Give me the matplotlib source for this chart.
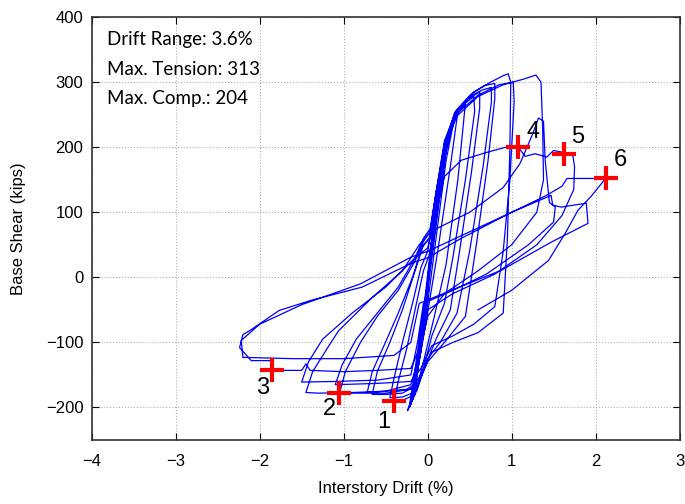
import numpy as np
import matplotlib.pyplot as plt

# hysteresis cycles (drift %, base shear kips)
c1_x = [0.00, 0.06, 0.12, 0.15, 0.13, 0.05, -0.03, -0.08, -0.10, -0.08, -0.02, 0.02]
c1_y = [0, 60, 120, 150, 140, 60, -30, -90, -120, -115, -50, 10]
c2_x = [0.02, 0.10, 0.18, 0.25, 0.23, 0.14, 0.03, -0.07, -0.14, -0.17, -0.15, -0.06, 0.02]
c2_y = [10, 95, 175, 215, 205, 120, 10, -95, -160, -180, -175, -90, 10]
c2b_x = [0.02, 0.09, 0.17, 0.28, 0.30, 0.22, 0.10, -0.02, -0.12, -0.19, -0.21, -0.17, -0.08, 0.02]
c2b_y = [10, 85, 165, 225, 232, 180, 60, -60, -145, -190, -198, -185, -100, 10]
c3_x = [0.02, 0.11, 0.21, 0.30, 0.36, 0.35, 0.27, 0.12, -0.02, -0.13, -0.20, -0.24, -0.22, -0.16, -0.06, 0.03]
c3_y = [10, 105, 195, 240, 255, 245, 170, 40, -70, -150, -190, -205, -200, -150, -60, 20]
c4_x = [0.03, 0.12, 0.22, 0.32, 0.45, 0.44, 0.36, 0.22, 0.08, -0.05, -0.15, -0.22, -0.20, -0.14, -0.04, 0.04]
c4_y = [20, 110, 200, 245, 268, 255, 150, 20, -60, -130, -180, -200, -195, -140, -50, 25]
c5_x = [0.04, 0.13, 0.23, 0.33, 0.45, 0.55, 0.56, 0.45, 0.30, 0.20, 0.05, -0.05, -0.15, -0.28, -0.40,
        -0.35, -0.25, -0.15, -0.05, 0.02]
c5_y = [25, 115, 205, 248, 268, 278, 255, 150, 30, -40, -90, -140, -180, -188, -190,
        -160, -110, -50, 10, 35]
c6_x = [0.02, 0.12, 0.22, 0.34, 0.48, 0.62, 0.62, 0.52, 0.38, 0.27, 0.10, -0.04, -0.13, -0.30, -0.45,
        -0.40, -0.30, -0.18, -0.08, 0.00]
c6_y = [35, 115, 205, 250, 274, 285, 260, 160, 40, -50, -95, -140, -175, -184, -185,
        -155, -100, -40, 15, 40]
c7_x = [0.00, 0.11, 0.20, 0.32, 0.50, 0.65, 0.76, 0.76, 0.66, 0.50, 0.35, 0.15, 0.00, -0.12, -0.30,
        -0.50, -0.66, -0.60, -0.45, -0.30, -0.15, -0.05, 0.02]
c7_y = [40, 120, 205, 252, 278, 288, 292, 270, 170, 40, -55, -100, -125, -165, -178,
        -180, -180, -145, -100, -50, 10, 50, 60]
c8_x = [0.02, 0.10, 0.20, 0.33, 0.52, 0.68, 0.80, 0.80, 0.72, 0.58, 0.45, 0.20, 0.00, -0.10, -0.25,
        -0.50, -0.72, -0.66, -0.52, -0.35, -0.18, -0.07, 0.02]
c8_y = [60, 125, 205, 255, 282, 295, 298, 275, 180, 50, -60, -100, -130, -160, -172,
        -175, -177, -145, -105, -55, 0, 45, 60]
c9_x = [0.02, 0.10, 0.20, 0.35, 0.55, 0.75, 0.90, 0.96, 0.99, 0.98, 0.95, 0.90, 0.60, 0.30, 0.05,
        -0.08, -0.20, -0.50, -0.80, -1.05, -0.98, -0.80, -0.60, -0.35, -0.15, -0.05, 0.03]
c9_y = [60, 130, 210, 258, 285, 300, 310, 313, 300, 200, 60, -55, -85, -100, -115,
        -150, -172, -178, -178, -178, -145, -100, -60, -20, 25, 55, 70]
c10_x = [0.03, 0.10, 0.20, 0.35, 0.60, 0.85, 1.02, 1.03, 0.98, 0.90, 0.80, 0.55, 0.30, 0.05, -0.08,
         -0.20, -0.60, -1.10, -1.02, -0.85, -0.60, -0.35, -0.15, -0.05, 0.03]
c10_y = [70, 130, 205, 252, 280, 296, 300, 270, 150, 40, -45, -72, -90, -105, -140,
         -160, -163, -165, -135, -95, -55, -15, 30, 60, 75]
c11_x = [0.03, 0.10, 0.20, 0.35, 0.60, 0.90, 1.15, 1.29, 1.35, 1.37, 1.38, 1.30, 1.00, 0.60, 0.20,
         0.00, -0.10, -0.20, -0.50, -0.90, -1.30, -1.45, -1.37, -1.20, -1.06, -0.66, -0.30, -0.10, 0.03]
c11_y = [75, 130, 200, 248, 278, 296, 305, 311, 300, 230, 150, 100, 50, 10, -25,
         -60, -120, -165, -175, -177, -178, -177, -145, -110, -82, -31, 10, 50, 70]
c12_x = [0.03, 0.50, 0.90, 1.10, 1.25, 1.32, 1.38, 1.40, 1.45, 1.52, 1.50, 1.20, 0.70, 0.30, -0.05,
         -0.12, -0.20, -0.60, -1.10, -1.50, -1.42, -1.25, -0.90, -0.50, -0.15, 0.00]
c12_y = [70, 100, 138, 175, 220, 245, 240, 180, 115, 108, 85, 50, 5, -20, -40,
         -100, -150, -158, -160, -161, -130, -95, -55, -15, 30, 45]
c13_x = [0.00, 0.10, 0.20, 0.40, 0.70, 0.93, 1.08, 1.16, 1.28, 1.42, 1.50, 1.62, 1.73, 1.75, 1.74,
         1.60, 1.30, 0.80, 0.30, 0.00, -0.10, -0.20, -0.60, -1.00, -1.40, -1.45, -1.50, -1.86, -1.86,
         -2.10, -2.24, -2.20, -2.12, -1.77, -1.38, -0.78, -0.19, 0.00]
c13_y = [45, 100, 155, 180, 192, 200, 200, 186, 190, 185, 195, 192, 187, 170, 135,
         95, 50, 5, -25, -50, -110, -140, -143, -145, -143, -133, -143, -143, -128,
         -128, -108, -88, -82, -51, -35, -15, 22, 30]
c14_x = [0.00, 0.40, 1.00, 1.47, 1.49, 1.59, 1.89, 1.91, 1.47, 0.88, 0.28, -0.10, -0.20, -0.40, -1.00,
         -1.60, -2.20, -2.22, -2.00, -1.50, -0.80, -0.20, 0.00]
c14_y = [30, 60, 100, 126, 111, 108, 114, 83, 54, 11, -20, -40, -100, -120, -125,
         -125, -123, -97, -72, -42, -10, 31, 40]
c15_x = [0.00, 0.50, 1.00, 1.40, 1.60, 1.66, 1.90, 2.12, 1.95, 1.79, 1.64, 1.44, 1.00, 0.60]
c15_y = [40, 70, 100, 125, 140, 152, 152, 152, 125, 103, 68, 26, -20, -50]

cycles_x = [c1_x, c2_x, c2b_x, c3_x, c4_x, c5_x, c6_x, c7_x, c8_x, c9_x, c10_x, c11_x,
            c12_x, c13_x, c14_x, c15_x]
cycles_y = [c1_y, c2_y, c2b_y, c3_y, c4_y, c5_y, c6_y, c7_y, c8_y, c9_y, c10_y, c11_y,
            c12_y, c13_y, c14_y, c15_y]

# damage-state points
pt_x = [-0.40, -1.05, -1.85, 1.08, 1.62, 2.12]
pt_y = [-190, -178, -142, 200, 190, 152]
pt_lab = ['1', '2', '3', '4', '5', '6']
lab_x = [-0.52, -1.17, -1.97, 1.26, 1.79, 2.29]
lab_y = [-222, -202, -170, 224, 216, 180]

info = ['Drift Range: 3.6%', 'Max. Tension: 313', 'Max. Comp.: 204']

fig = plt.figure(figsize=(6.85, 5.04), dpi=100)
ax = fig.add_axes([0.134, 0.127, 0.858, 0.839])

drift = np.concatenate([np.array(c, dtype=float) for c in cycles_x])
shear = np.concatenate([np.array(c, dtype=float) for c in cycles_y])
ax.plot(drift, shear, color='#0000ff', lw=0.9)

ax.plot(pt_x, pt_y, ls='none', marker='+', color='red', ms=17, mew=3)
for x, y, s in zip(lab_x, lab_y, pt_lab):
    ax.text(x, y, s, fontsize=17, ha='center', va='center', family='Liberation Sans')

ax.set_xlim(-4, 3)
ax.set_ylim(-250, 400)
ax.set_xticks(range(-4, 4))
ax.set_yticks(range(-200, 401, 100))
ax.grid(True, ls=':', color='#b0b0b0', lw=0.8)
ax.tick_params(direction='in', top=True, right=True, labelsize=12, length=5)
ax.tick_params(axis='x', pad=10)
ax.tick_params(axis='y', pad=6)
for lbl in ax.get_xticklabels() + ax.get_yticklabels():
    lbl.set_family('Liberation Sans')
for sp in ax.spines.values():
    sp.set_linewidth(1.2)
    sp.set_color('#333333')

ax.set_xlabel('Interstory Drift (%)', fontsize=12, family='Liberation Sans', labelpad=9)
ax.set_ylabel('Base Shear (kips)', fontsize=12, family='Liberation Sans', labelpad=14)

for i, s in enumerate(info):
    ax.text(0.026, 0.946 - i * 0.069, s, transform=ax.transAxes, fontsize=13.5,
            family='Lato', va='center', ha='left')

fig.savefig('out.png', dpi=100)
